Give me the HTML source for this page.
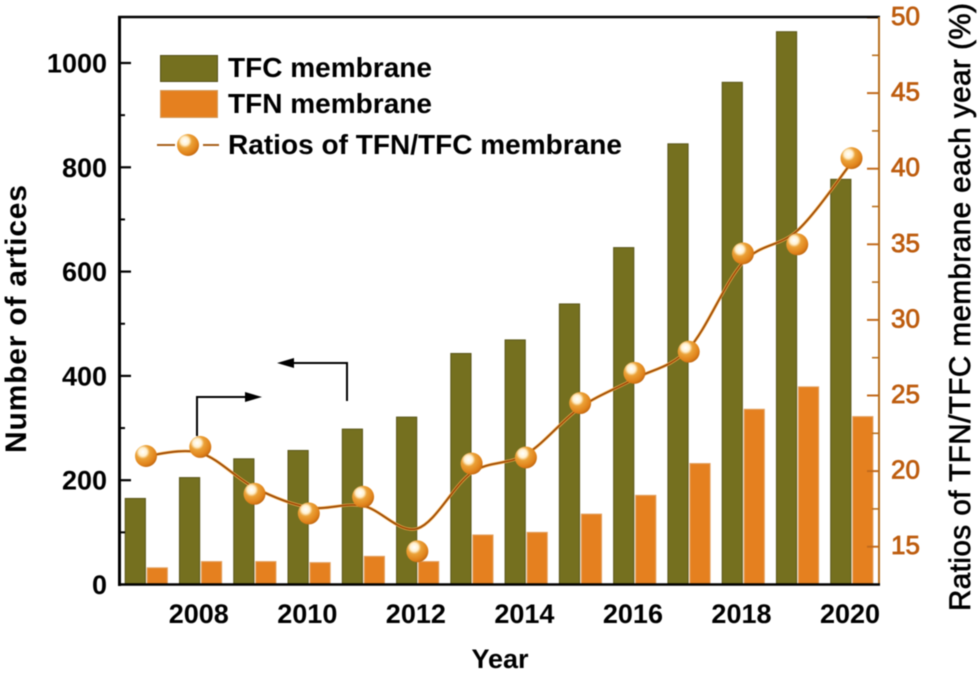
<!DOCTYPE html>
<html lang="en">
<head>
<meta charset="utf-8">
<title>TFC and TFN membrane articles per year</title>
<style>
html,body{margin:0;padding:0;background:#fff;}
body{width:980px;height:673px;overflow:hidden;}
svg{display:block;font-family:"Liberation Sans",sans-serif;filter:blur(0.45px);}
</style>
</head>
<body>
<svg id="chart" xmlns="http://www.w3.org/2000/svg" width="980" height="673" viewBox="0 0 980 673">
  <defs>
    <radialGradient id="ball" cx="0.36" cy="0.32" r="0.78">
      <stop offset="0" stop-color="#ffffff"/>
      <stop offset="0.24" stop-color="#fff1d0"/>
      <stop offset="0.4" stop-color="#eba238"/>
      <stop offset="0.75" stop-color="#e0821a"/>
      <stop offset="1" stop-color="#b25a0c"/>
    </radialGradient>
  </defs>
  <rect x="0" y="0" width="980" height="673" fill="#ffffff"/>
  <g id="bars"></g>
  <g id="ticks"></g>

  <line x1="118" y1="17" x2="880" y2="17" stroke="#000" stroke-width="2.5"/>
  <line x1="879" y1="17" x2="879" y2="585" stroke="#b8701f" stroke-width="2"/>
  <line x1="119.5" y1="16" x2="119.5" y2="586" stroke="#000" stroke-width="3"/>
  <line x1="118" y1="584.5" x2="880" y2="584.5" stroke="#000" stroke-width="2.5"/>

  <text transform="translate(26,453) rotate(-90)" font-size="30" font-weight="700" fill="#000" textLength="268" lengthAdjust="spacing">Number of artices</text>
  <text transform="translate(970,611) rotate(-90)" font-size="29.5" fill="#000" stroke="#000" stroke-width="0.7" textLength="608" lengthAdjust="spacing">Ratios of TFN/TFC membrane each year (%)</text>
  <text x="500" y="668" font-size="27" font-weight="700" fill="#000" text-anchor="middle">Year</text>

  <g id="direction-arrows">
    <polyline points="197,436 197,397 248,397" fill="none" stroke="#000" stroke-width="2"/>
    <polygon points="245,392 262,397 245,402" fill="#000"/>
    <polyline points="347,401 347,363 292,363" fill="none" stroke="#000" stroke-width="2"/>
    <polygon points="294,358 277,363 294,368" fill="#000"/>
  </g>

  <g id="trend-layer"></g>

  <g>
    <rect x="160.5" y="55.5" width="57" height="26" fill="#75701f" stroke="#55511a" stroke-width="1"/>
    <text x="228" y="77" font-size="28" font-weight="700" fill="#000" textLength="204" lengthAdjust="spacing">TFC membrane</text>
    <rect x="160.5" y="90.5" width="57" height="27" fill="#e5801f" stroke="#d39a5c" stroke-width="1"/>
    <text x="228" y="113" font-size="28" font-weight="700" fill="#000" textLength="204" lengthAdjust="spacing">TFN membrane</text>
    <line x1="157" y1="145" x2="175" y2="145" stroke="#a8601a" stroke-width="2"/>
    <line x1="203" y1="145" x2="219" y2="145" stroke="#a8601a" stroke-width="2"/>
    <circle cx="188" cy="145" r="11" fill="url(#ball)"/>
    <text x="228" y="154" font-size="28" font-weight="700" fill="#000" textLength="394" lengthAdjust="spacing">Ratios of TFN/TFC membrane</text>
  </g>
</svg>
<script>
const years = [2007, 2008, 2009, 2010, 2011, 2012, 2013, 2014, 2015, 2016, 2017, 2018, 2019, 2020];
const tfcArticles = [165, 205, 241, 257, 298, 321, 443, 469, 538, 646, 845, 963, 1060, 777];
const tfnArticles = [32, 44, 44, 42, 54, 44, 95, 100, 135, 171, 232, 336, 379, 322];
const ratioPercent = [21.0, 21.6, 18.5, 17.2, 18.3, 14.7, 20.5, 20.9, 24.5, 26.5, 27.9, 34.4, 35.0, 40.7];
const ratioTrend = [21.0, 21.2, 18.9, 17.6, 17.7, 16.2, 19.9, 21.1, 24.2, 26.1, 28.1, 33.8, 35.9, 40.4];
const xTickYears = [2008, 2010, 2012, 2014, 2016, 2018, 2020];
const leftMajorTicks = [0, 200, 400, 600, 800, 1000];
const leftMinorTicks = [100, 300, 500, 700, 900];
const rightMajorTicks = [15, 20, 25, 30, 35, 40, 45, 50];
const rightMinorTicks = [12.5, 17.5, 22.5, 27.5, 32.5, 37.5, 42.5, 47.5];

const NS = 'http://www.w3.org/2000/svg';
function xScale(year) { return 146 + (year - 2007) * 54.27; }
function yLeft(value) { return 584.5 - value * 0.5215; }
function yRight(ratio) { return 546.7 - (ratio - 15) * 15.12; }
function make(parent, tag, attrs, text) {
  const el = document.createElementNS(NS, tag);
  for (const k in attrs) el.setAttribute(k, attrs[k]);
  if (text !== undefined) el.textContent = text;
  parent.appendChild(el);
  return el;
}

const barsLayer = document.getElementById('bars');
years.forEach(function (year, i) {
  const cx = xScale(year);
  const topTfc = yLeft(tfcArticles[i]);
  const tfc = make(barsLayer, 'rect', { x: cx - 20.8, y: topTfc, width: 20.2, height: 584 - topTfc, fill: '#75701f', stroke: '#5a5619', 'stroke-width': 1 });
  
  
  const topTfn = yLeft(tfnArticles[i]);
  const tfn = make(barsLayer, 'rect', { x: cx + 1.2, y: topTfn, width: 20.2, height: 584 - topTfn, fill: '#e5801f', stroke: '#e3a263', 'stroke-width': 1 });
  
  
});

const tickLayer = document.getElementById('ticks');
leftMajorTicks.forEach(function (v) {
  if (v > 0) {
    const t = make(tickLayer, 'line', { x1: 119, x2: 131, y1: yLeft(v), y2: yLeft(v), stroke: '#000', 'stroke-width': 2.2 });
    
    
  }
  const l = make(tickLayer, 'text', { x: 107, y: yLeft(v) + 9.5, 'font-size': 27, 'font-weight': 700, 'text-anchor': 'end', fill: '#000' }, String(v));
  
  
});
leftMinorTicks.forEach(function (v) {
  const t = make(tickLayer, 'line', { x1: 119, x2: 125, y1: yLeft(v), y2: yLeft(v), stroke: '#000', 'stroke-width': 2 });
  
  
});
rightMajorTicks.forEach(function (v) {
  const t = make(tickLayer, 'line', { x1: 867, x2: 879, y1: yRight(v), y2: yRight(v), stroke: '#c26a1c', 'stroke-width': 2 });
  
  
  const l = make(tickLayer, 'text', { x: 891, y: yRight(v) + 7.5, 'font-size': 26, 'text-anchor': 'start', fill: '#bd5c0e', stroke: '#bd5c0e', 'stroke-width': 0.8 }, String(v));
  
  
});
rightMinorTicks.forEach(function (v) {
  const t = make(tickLayer, 'line', { x1: 872, x2: 879, y1: yRight(v), y2: yRight(v), stroke: '#b8701f', 'stroke-width': 1.6 });
  
  
});
xTickYears.forEach(function (year) {
  const l = make(tickLayer, 'text', { x: xScale(year) - 1.5, y: 623, 'font-size': 27, 'font-weight': 700, 'text-anchor': 'middle', fill: '#000' }, String(year));
  
  
});

function splinePath(pts) {
  let d = 'M' + pts[0][0] + ' ' + pts[0][1];
  for (let i = 0; i < pts.length - 1; i++) {
    const p0 = pts[Math.max(i - 1, 0)], p1 = pts[i], p2 = pts[i + 1], p3 = pts[Math.min(i + 2, pts.length - 1)];
    const c1x = p1[0] + (p2[0] - p0[0]) / 6, c1y = p1[1] + (p2[1] - p0[1]) / 6;
    const c2x = p2[0] - (p3[0] - p1[0]) / 6, c2y = p2[1] - (p3[1] - p1[1]) / 6;
    d += ' C' + c1x + ' ' + c1y + ' ' + c2x + ' ' + c2y + ' ' + p2[0] + ' ' + p2[1];
  }
  return d;
}

const trendLayer = document.getElementById('trend-layer');
const trendPoints = years.map(function (year, i) { return [xScale(year), yRight(ratioTrend[i])]; });
const trendD = splinePath(trendPoints);
const halo = make(trendLayer, 'path', { d: trendD, fill: 'none', stroke: '#eeaa4a', 'stroke-width': 3 });


const trendLine = make(trendLayer, 'path', { d: trendD, fill: 'none', stroke: '#9c4806', 'stroke-width': 1.6 });


years.forEach(function (year, i) {
  const dot = make(trendLayer, 'circle', { cx: xScale(year), cy: yRight(ratioPercent[i]), r: 11, fill: 'url(#ball)' });
  
  
});
</script>
</body>
</html>
